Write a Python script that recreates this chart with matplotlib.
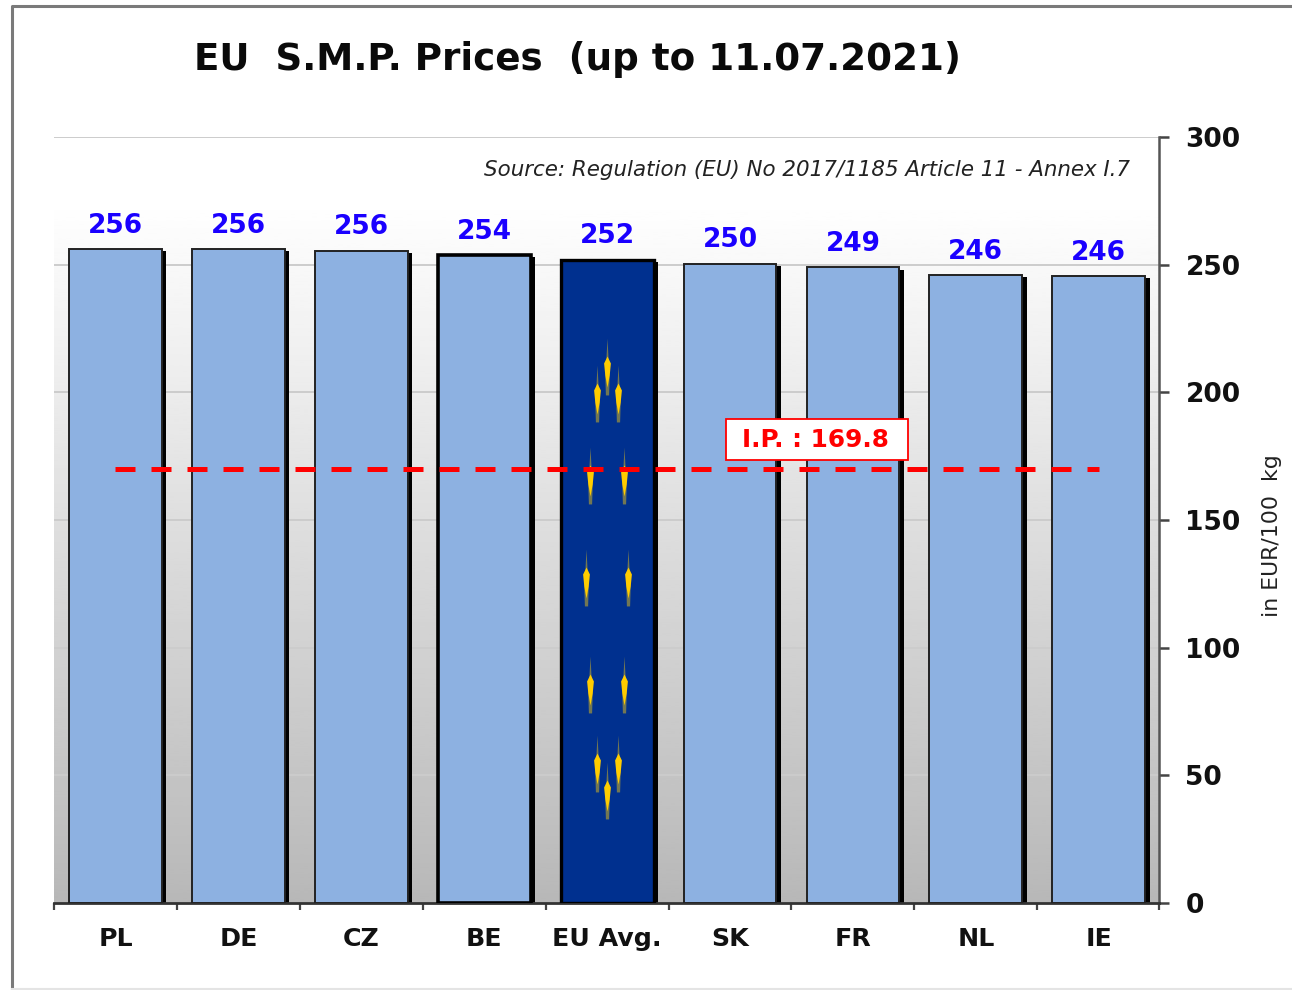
import matplotlib
matplotlib.use("Agg")
import matplotlib.pyplot as plt
import numpy as np
from matplotlib.patches import Rectangle
from matplotlib.path import Path

countries = ["PL", "DE", "CZ", "BE", "EU Avg.", "SK", "FR", "NL", "IE"]
prices = [256.1, 256.0, 255.5, 253.7, 251.9, 250.4, 248.9, 245.9, 245.5]
price_labels = ["256", "256", "256", "254", "252", "250", "249", "246", "246"]
intervention = 169.8
yticks = [0, 50, 100, 150, 200, 250, 300]

# flag stars on the EU bar, offset from bar centre (category units) and price level
star_dx = [0, -0.085, 0.085, -0.14, 0.14, -0.17, 0.17, -0.14, 0.14, -0.085, 0.085, 0]
star_y = [211.5, 201, 201, 168.8, 168.8, 129, 129, 87, 87, 56, 56, 45.4]

W, H = 1292, 990
fig = plt.figure(figsize=(W / 100, H / 100), dpi=100)
ax = fig.add_axes([54 / W, 1 - 903 / H, (1159 - 54) / W, (903 - 137) / H])

# background fade, white on top to grey at the bottom
grad = np.linspace(0.72, 1.0, 256).reshape(-1, 1)
ax.imshow(grad, extent=[-0.5, 8.49, 0, 275], origin="lower", aspect="auto",
          cmap="gray", vmin=0, vmax=1, zorder=0)
ax.set_xlim(-0.5, 8.49)
ax.set_ylim(0, 300)

for t in yticks[1:]:
    ax.axhline(t, color="#cccccc", lw=1.4, zorder=1)

x = np.arange(len(countries))
width = 0.755
colors = ["#8db1e1"] * len(countries)
colors[4] = "#00308f"
edges = [1.4, 1.4, 1.4, 2.6, 2.4, 1.4, 1.4, 1.4, 1.4]

# shadow first, then the bars
sx = 4.5 / 123
for xi, p in zip(x, prices):
    ax.add_patch(Rectangle((xi - width / 2 + sx, 0), width, p - 0.8, fc="black", ec="none", zorder=2))
ax.bar(x, prices, width=width, color=colors, edgecolor=["#222222"] * 3 + ["black"] * 2 + ["#222222"] * 4,
       linewidth=edges, zorder=3)

# star drawn as a spindle, faint tail with a bright head
tail = Path([(0, 25), (1.2, 2), (2.4, -6), (1.6, -32), (-1.6, -32), (-2.4, -6), (-1.2, 2), (0, 25)], closed=True)
head = Path([(0, 7), (3.4, 0), (2.2, -12), (0, -24), (-2.2, -12), (-3.4, 0), (0, 7)], closed=True)
for dx, sy in zip(star_dx, star_y):
    ax.plot(4 + dx, sy, marker=tail, ms=46, mfc="#8f8a45", mec="none", alpha=0.8, zorder=4)
    ax.plot(4 + dx, sy, marker=head, ms=34.5, mfc="#ffcc00", mec="none", zorder=4)

ax.plot(x, [intervention] * len(x), color="#ff0000", lw=3.6, dashes=(4, 3.2), zorder=5)

for xi, p, s in zip(x, prices, price_labels):
    ax.text(xi, p + 4.1, s, color="#1a00ff", fontsize=19, fontweight="bold",
            ha="center", va="bottom", zorder=6)

# label box for the intervention price
ax.add_patch(Rectangle((5.705 - 0.74, 173.5), 1.48, 16.1, fc="white", ec="#ff0000", lw=1.3, zorder=6))
ax.text(5.695, 181.3, "I.P. : 169.8", color="#ff0000", fontsize=17.8, fontweight="bold",
        ha="center", va="center", zorder=7)

ax.text(8.255, 287, "Source: Regulation (EU) No 2017/1185 Article 11 - Annex I.7",
        style="italic", fontsize=15.4, color="#222222", ha="right", va="center", zorder=6)

ax.yaxis.tick_right()
ax.set_yticks(yticks)
ax.set_yticklabels([str(t) for t in yticks], fontsize=19, fontweight="bold", color="#111111")
ax.tick_params(axis="y", length=7, width=1.8, color="#444444", pad=12)

ax.set_xticks(np.append(x - 0.5, 8.49))
ax.set_xticklabels([""] * 10)
ax.tick_params(axis="x", length=5, width=1.6, color="#444444")
for xi, name in zip(x, countries):
    ax.text(xi, -14, name, fontsize=18.2, fontweight="bold", color="#111111",
            ha="center", va="center")

for s in ["top", "left"]:
    ax.spines[s].set_visible(False)
ax.spines["right"].set_color("#555555")
ax.spines["right"].set_linewidth(1.8)
ax.spines["bottom"].set_color("#333333")
ax.spines["bottom"].set_linewidth(2)

fig.text(577 / W, 1 - 60 / H, "EU  S.M.P. Prices  (up to 11.07.2021)", fontsize=26.8,
         fontweight="bold", ha="center", va="center", color="#0a0a0a")
fig.text(1272 / W, 1 - 536 / H, "in EUR/100  kg", fontsize=15.8, rotation=90,
         ha="center", va="center", color="#222222")

# outer chart frame, runs off the right edge of the picture
fig.add_artist(plt.Line2D([12 / W, 12 / W, 1], [0, 1 - 6 / H, 1 - 6 / H],
                          color="#7a7a7a", lw=2.2))
fig.add_artist(plt.Line2D([12 / W, 1], [1 / H, 1 / H], color="#e4e4e4", lw=1.5))

fig.savefig("out.png", dpi=100)
